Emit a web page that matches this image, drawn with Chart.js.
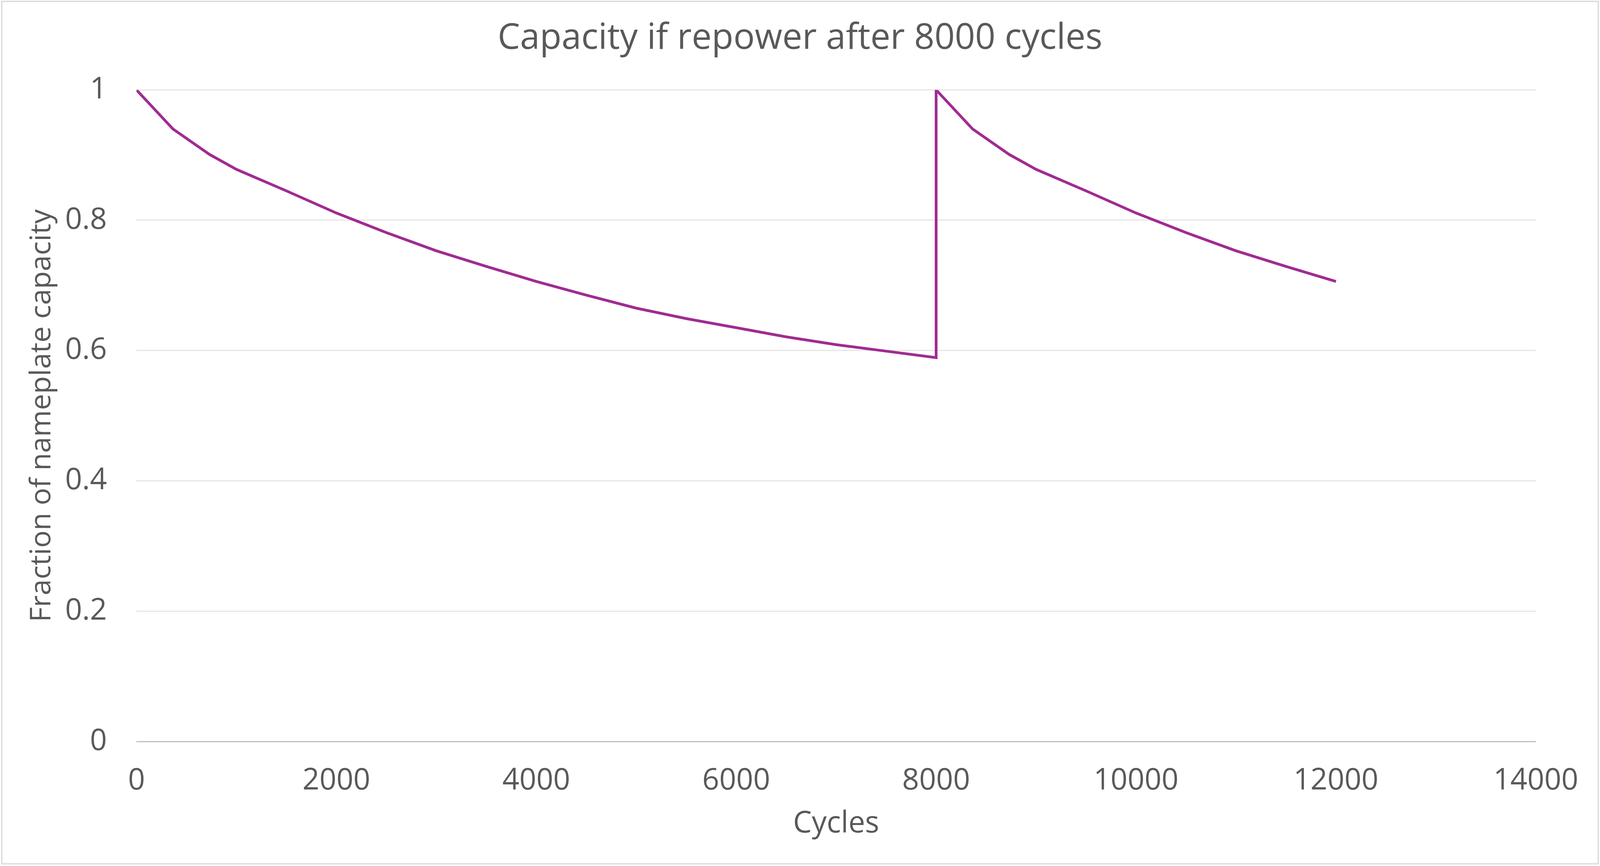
<!DOCTYPE html>
<html>
<head>
<meta charset="utf-8">
<title>Capacity if repower after 8000 cycles</title>
<script src="https://cdn.jsdelivr.net/npm/chart.js@4.4.1/dist/chart.umd.min.js"></script>
<style>
  html, body { margin: 0; padding: 0; background: #ffffff; overflow: hidden; }
  canvas { display: block; }
</style>
</head>
<body>
<canvas id="chart"></canvas>
<script>
/* ── Data ── */
const CYCLES = [
  0, 365, 730, 1000, 1500, 2000, 2500, 3000, 3500, 4000,
  4500, 5000, 5500, 6000, 6500, 7000, 7500, 8000,
  8000, 8365, 8730, 9000, 9500, 10000, 10500, 11000, 11500, 12000,
];
const CAPACITY = [
  1.000, 0.940, 0.901, 0.878, 0.845, 0.811, 0.781, 0.753, 0.729, 0.706,
  0.685, 0.665, 0.649, 0.635, 0.621, 0.609, 0.599, 0.589,
  1.000, 0.940, 0.901, 0.878, 0.845, 0.811, 0.781, 0.753, 0.729, 0.706,
];
const X_TICKS = [0, 2000, 4000, 6000, 8000, 10000, 12000, 14000];
const X_TICK_LABELS = ['0', '2000', '4000', '6000', '8000', '10000', '12000', '14000'];
const Y_TICKS = [0, 0.2, 0.4, 0.6, 0.8, 1];
const Y_TICK_LABELS = ['0', '0.2', '0.4', '0.6', '0.8', '1'];

/* ── Style ── */
const FONT = "'Open Sans', sans-serif";
const TEXT = '#595959';
const LINE = '#A02B93';
const GRID = '#e6e6e6';
const AXIS = '#bfbfbf';

/* the design is 4115 x 2218; fit whatever viewport we actually get */
const W = window.innerWidth || 4115;
const H = window.innerHeight || 2218;
const sx = W / 4115;
const sy = H / 2218;

const canvas = document.getElementById('chart');
canvas.width = W;
canvas.height = H;

/* light frame round the whole chart */
const framePlugin = {
  id: 'frame',
  beforeDraw(chart) {
    const { ctx, width, height } = chart;
    ctx.save();
    ctx.fillStyle = '#ffffff';
    ctx.fillRect(0, 0, width, height);
    ctx.strokeStyle = '#d9d9d9';
    ctx.lineWidth = 3;
    ctx.strokeRect(4.5, 3.5, width - 9, height - 9);
    ctx.restore();
  },
};

new Chart(canvas, {
  type: 'line',
  data: {
    datasets: [{
      label: 'Capacity',
      data: CYCLES.map((c, i) => ({ x: c, y: CAPACITY[i] })),
      borderColor: LINE,
      borderWidth: 7,
      pointRadius: 0,
      tension: 0,
      fill: false,
    }],
  },
  options: {
    responsive: false,
    devicePixelRatio: 1,
    animation: false,
    layout: { padding: 0 },
    plugins: {
      legend: { display: false },
      tooltip: { enabled: false },
      title: {
        display: true,
        text: 'Capacity if repower after 8000 cycles',
        color: TEXT,
        font: { family: FONT, size: 91, weight: 'normal', lineHeight: 1.2 },
        padding: { top: 44 * sy, bottom: 77 * sy },
      },
    },
    scales: {
      x: {
        type: 'linear',
        min: 0,
        max: 14000,
        afterBuildTicks: s => { s.ticks = X_TICKS.map(v => ({ value: v })); },
        afterFit: s => { s.height = (2218 - 1899) * sy; s.paddingRight = 165 * sx; },
        grid: { display: false, drawTicks: false },
        border: { display: false },
        ticks: {
          color: TEXT,
          font: { family: FONT, size: 76, lineHeight: 1.2 },
          padding: 56 * sy,
          maxRotation: 0,
          callback: (v, i) => X_TICK_LABELS[i],
        },
        title: {
          display: true,
          text: 'Cycles',
          color: TEXT,
          font: { family: FONT, size: 76, lineHeight: 1.2 },
          padding: { top: 0, bottom: 62 * sy },
        },
      },
      y: {
        type: 'linear',
        min: 0,
        max: 1,
        afterBuildTicks: s => { s.ticks = Y_TICKS.map(v => ({ value: v })); },
        afterFit: s => { s.width = 351 * sx; },
        grid: {
          drawTicks: false,
          lineWidth: 3,
          color: c => (c.tick && c.tick.value === 0 ? AXIS : GRID),
        },
        border: { display: false },
        ticks: {
          color: TEXT,
          font: { family: FONT, size: 76, lineHeight: 1.2 },
          padding: 76 * sx,
          callback: (v, i) => Y_TICK_LABELS[i],
        },
        title: {
          display: true,
          text: 'Fraction of nameplate capacity',
          color: TEXT,
          font: { family: FONT, size: 74, lineHeight: 1.2 },
          padding: { top: 64 * sx, bottom: 0 },
        },
      },
    },
  },
  plugins: [framePlugin],
});
</script>
</body>
</html>
